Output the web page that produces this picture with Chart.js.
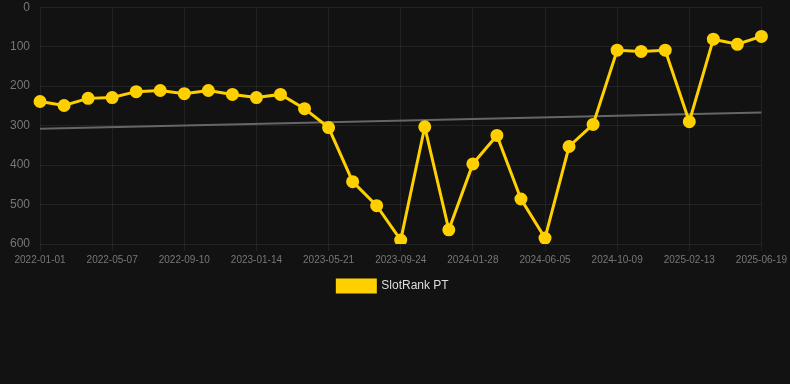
<!DOCTYPE html>
<html>
<head>
<meta charset="utf-8">
<script src="https://cdn.jsdelivr.net/npm/chart.js@4"></script>
<style>
html,body{margin:0;padding:0;background:#121212;overflow:hidden;}
#wrap{position:relative;width:790px;height:312px;margin-top:-10px;}
</style>
</head>
<body>
<div id="wrap"><canvas id="c"></canvas></div>
<script>
const dates = [
  "2022-01-01","2022-02-12","2022-03-26","2022-05-07","2022-06-18","2022-07-30",
  "2022-09-10","2022-10-22","2022-12-03","2023-01-14","2023-02-25","2023-04-08",
  "2023-05-21","2023-07-02","2023-08-13","2023-09-24","2023-11-05","2023-12-17",
  "2024-01-28","2024-03-10","2024-04-22","2024-06-05","2024-07-17","2024-08-28",
  "2024-10-09","2024-11-20","2025-01-01","2025-02-13","2025-03-27","2025-05-08",
  "2025-06-19"
];
const slotRank = [239,249,231,229,214,211,219,211,221,229,221,257,305,442,503,590,303,564,397,325,486,585,353,297,109,112,109,290,81,94,74];
const trendStart = 308;
const trendEnd = 267;
const yTicks = [0,100,200,300,400,500,600];

const trend = dates.map((d,i)=> i===0 ? trendStart : (i===dates.length-1 ? trendEnd : null));

new Chart(document.getElementById('c'), {
  type: 'line',
  data: {
    labels: dates,
    datasets: [
      {
        label: 'SlotRank PT',
        data: slotRank,
        borderColor: '#FFD000',
        backgroundColor: '#FFD000',
        borderWidth: 3,
        pointRadius: 5,
        pointHoverRadius: 6,
        tension: 0,
        order: 1
      },
      {
        label: 'trend',
        data: trend,
        spanGaps: true,
        borderColor: '#666666',
        backgroundColor: '#666666',
        borderWidth: 2,
        pointRadius: 0,
        tension: 0,
        order: 2
      }
    ]
  },
  options: {
    responsive: true,
    maintainAspectRatio: false,
    animation: false,
    layout: { padding: { top: 0, right: 4, left: 0, bottom: 0 } },
    scales: {
      x: {
        offset: false,
        grid: {
          color: (ctx) => (ctx.index % 3 === 0 ? 'rgba(255,255,255,0.07)' : 'rgba(0,0,0,0)'),
          drawTicks: true,
          tickLength: 7
        },
        border: { display: false },
        ticks: {
          autoSkip: false,
          maxRotation: 0,
          minRotation: 0,
          color: '#777',
          font: { size: 10, family: 'Liberation Sans, Arial, sans-serif' },
          callback: function(v, i) { return i % 3 === 0 ? this.getLabelForValue(v) : ''; }
        }
      },
      y: {
        reverse: true,
        min: 0,
        max: 600,
        afterBuildTicks: (axis) => { axis.ticks = yTicks.map(v => ({ value: v })); },
        grid: { color: 'rgba(255,255,255,0.07)', drawTicks: false },
        border: { display: false },
        ticks: {
          color: '#777',
          padding: 10,
          font: { size: 12, family: 'Liberation Sans, Arial, sans-serif' }
        }
      }
    },
    plugins: {
      legend: {
        position: 'bottom',
        labels: {
          filter: (item) => item.text !== 'trend',
          color: '#ddd',
          boxWidth: 38,
          boxHeight: 12,
          padding: 11,
          font: { size: 12, family: 'Liberation Sans, Arial, sans-serif' }
        }
      },
      tooltip: { enabled: false }
    }
  }
});
</script>
</body>
</html>
